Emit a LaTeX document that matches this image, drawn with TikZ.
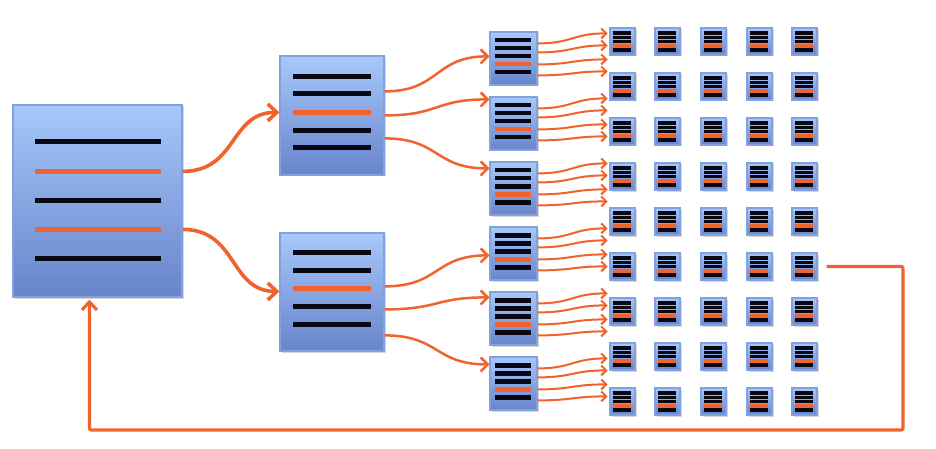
\documentclass[tikz,border=0pt]{standalone}
\usetikzlibrary{arrows.meta,calc,shadows}
\definecolor{org}{RGB}{241,99,45}
\definecolor{btop}{RGB}{166,200,250}
\definecolor{bbot}{RGB}{104,132,203}
\definecolor{bline}{RGB}{130,162,222}
\definecolor{ink}{RGB}{8,8,20}
\begin{document}
\begin{tikzpicture}[x=1pt,y=-1pt,
  panel/.style={draw=bline, line width=1.2pt, top color=btop, bottom color=bbot, inner sep=0pt,
    drop shadow={shadow xshift=1.5pt, shadow yshift=-1.5pt, opacity=0.3}},
  bigarrow/.style={draw=org, line width=3.6pt, -{Straight Barb[length=9pt,width=17pt,line width=3.6pt]}},
  midarrow/.style={draw=org, line width=2.5pt, -{Straight Barb[length=7pt,width=14pt,line width=2.5pt]}},
  smallarrow/.style={draw=org, line width=2pt, -{Straight Barb[length=5pt,width=10pt,line width=2pt]}},
  feedback/.style={draw=org, line width=3.2pt, rounded corners=2pt, -{Straight Barb[length=8pt,width=15pt,line width=3.2pt]}}
]
\useasboundingbox[fill=white] (0,0) rectangle (936,449);

% big box
\node[panel, minimum width=169pt, minimum height=192pt] (big) at (97.5,201) {};
\foreach \dy/\c in {37/ink,67/org,96/ink,125/org,154/ink}
  \draw[line width=4.5pt, \c] ($(big.north west)+(23,\dy)$) -- ++(126,0);

% medium boxes
\node[panel, minimum width=104pt, minimum height=119pt] (m1) at (332,115.5) {};
\foreach \dy/\c in {21/ink,38/ink,57/org,75/ink,92/ink}
  \draw[line width=4.3pt, \c] ($(m1.north west)+(14,\dy)$) -- ++(78,0);
\node[panel, minimum width=104pt, minimum height=118pt] (m2) at (332,292) {};
\foreach \dy/\c in {20/ink,38/ink,56/org,74/ink,92/ink}
  \draw[line width=4.3pt, \c] ($(m2.north west)+(14,\dy)$) -- ++(78,0);

% small boxes
\foreach \i/\t in {1/32,2/97,3/162,4/227,5/292,6/357}{
  \node[panel, minimum width=47pt, minimum height=53pt] (s\i) at (513.5,{\t+26.5}) {};
  \foreach \dy/\c in {9/ink,17/ink,25/ink,33/org,41/ink}
    \draw[line width=4.2pt, \c] ($(s\i.north west)+(6,\dy)$) -- ++(36,0);
}

% tiny boxes
\foreach \r in {1,...,9}{
  \foreach \c/\x in {1/610,2/655,3/701,4/747,5/792}{
    \node[panel, minimum width=25pt, minimum height=27pt] (t-\r-\c) at ({\x+12.5},{28+45*(\r-1)+13.5}) {};
    \foreach \dy in {5.8,10,14.2,22.7}
      \draw[line width=3.5pt, ink] ($(t-\r-\c.north west)+(3.5,\dy)$) -- ++(18,0);
    \draw[line width=3.8pt, org] ($(t-\r-\c.north west)+(3.5,18.5)$) -- ++(18,0);
  }
}

% big -> medium
\draw[bigarrow] ($(big.north east)+(0,67)$) .. controls +(55,0) and +(-50,0) .. ($(m1.north west)+(0,57)$);
\draw[bigarrow] ($(big.north east)+(0,125)$) .. controls +(55,0) and +(-50,0) .. ($(m2.north west)+(0,59)$);

% medium -> small
\foreach \s/\b/\e in {36/1/25,60/2/3,83/3/7}
  \draw[midarrow] ($(m1.north east)+(0,\s)$) .. controls +(55,0) and +(-55,0) .. ($(s\b.north west)+(0,\e)$);
\foreach \s/\b/\e in {54/4/29,77/5/6,103/6/8}
  \draw[midarrow] ($(m2.north east)+(0,\s)$) .. controls +(55,0) and +(-55,0) .. ($(s\b.north west)+(0,\e)$);

% small -> tiny grid
\foreach \i in {1,...,6}{
  \foreach \k/\s/\e in {1/12/2,2/21/14,3/33/28,4/44/40}{
    \coordinate (e\i-\k) at ($(s\i.north east)+(70,\e)$);
    \draw[smallarrow] ($(s\i.north east)+(0,\s)$) .. controls +(35,0) and +(-35,0) .. (e\i-\k);
  }
}

% feedback loop
\coordinate (fbstart) at ($(t-6-5.east)+(9,0)$);
\coordinate (fbcorner) at (903,430);
\coordinate (fbend) at ($(big.south west)+(77,2)$);
\draw[feedback] (fbstart) -| (fbcorner) -| (fbend);
\end{tikzpicture}
\end{document}
